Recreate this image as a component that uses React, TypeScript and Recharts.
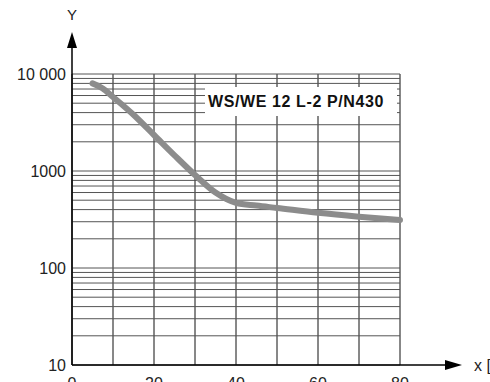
import React from "react";
import { LineChart, Line, XAxis, YAxis, CartesianGrid } from "recharts";

// curve (x, y on log scale)
const xValues = [5, 7.5, 10, 15, 20, 25, 30, 35, 40, 45, 50, 60, 70, 80];
const yValues = [8000, 7100, 5800, 3800, 2350, 1450, 910, 600, 470, 440, 416, 371, 338, 312];

const xTicks = [0, 10, 20, 30, 40, 50, 60, 70, 80];
const xLabels = [0, 20, 40, 60, 80];
const yDecades = [10, 100, 1000];
const yLabels = [10, 100, 1000, 10000];
const seriesName = "WS/WE 12 L-2 P/N430";

const yTicks: number[] = [];
yDecades.forEach((d) => {
  for (let i = 1; i < 10; i++) yTicks.push(d * i);
});
yTicks.push(10000);

const data = xValues.map((x, i) => ({ x, y: yValues[i] }));

const font = "'Liberation Sans', Arial, sans-serif";

const formatY = (v: number) => {
  if (!yLabels.includes(v)) return "";
  return v === 10000 ? "10 000" : String(v);
};

const formatX = (v: number) => (xLabels.includes(v) ? String(v) : "");

export default function App() {
  return (
    <div style={{ position: "absolute", left: 0, top: 0, width: 490, height: 382, background: "#fff" }}>
      <LineChart
        width={490}
        height={382}
        data={data}
        margin={{ top: 74, right: 90, left: 0, bottom: 0 }}
      >
        <CartesianGrid horizontal={false} stroke="#111" strokeWidth={1} />
        <CartesianGrid vertical={false} stroke="#555" strokeWidth={1} />
        <XAxis
          dataKey="x"
          type="number"
          domain={[0, 80]}
          ticks={xTicks}
          tickFormatter={formatX}
          interval={0}
          axisLine={false}
          tickLine={false}
          tickSize={8}
          tickMargin={5}
          height={17}
          tick={{ fontSize: 16, fill: "#222", fontFamily: font }}
        />
        <YAxis
          type="number"
          scale="log"
          domain={[10, 10000]}
          allowDataOverflow
          ticks={yTicks}
          tickFormatter={formatY}
          interval={0}
          axisLine={false}
          tickLine={false}
          tickSize={4}
          tickMargin={2}
          width={72}
          tick={{ fontSize: 16, fill: "#222", fontFamily: font }}
        />
        <Line
          dataKey="y"
          type="monotone"
          stroke="#8c8c8c"
          strokeWidth={6}
          strokeLinecap="round"
          dot={false}
          activeDot={false}
          isAnimationActive={false}
        />
      </LineChart>
      <svg
        width={490}
        height={382}
        style={{ position: "absolute", left: 0, top: 0, pointerEvents: "none" }}
      >
        <line x1={72} y1={365} x2={72} y2={46} stroke="#000" strokeWidth={1.5} />
        <polygon points="72,32 67,48 77,48" fill="#000" />
        <text x={72} y={20} textAnchor="middle" fontSize={15} fontFamily={font} fill="#222">Y</text>
        <line x1={72} y1={365} x2={448} y2={365} stroke="#000" strokeWidth={1.5} />
        <polygon points="462,365 445,360 445,370" fill="#000" />
        <text x={474} y={371} fontSize={16} fontFamily={font} fill="#222">x [</text>
        <rect x={205} y={87} width={192} height={29} fill="#fff" />
        <text
          x={208}
          y={107}
          fontSize={16}
          fontWeight="bold"
          letterSpacing={0.6}
          fontFamily={font}
          fill="#111"
        >
          {seriesName}
        </text>
      </svg>
    </div>
  );
}
